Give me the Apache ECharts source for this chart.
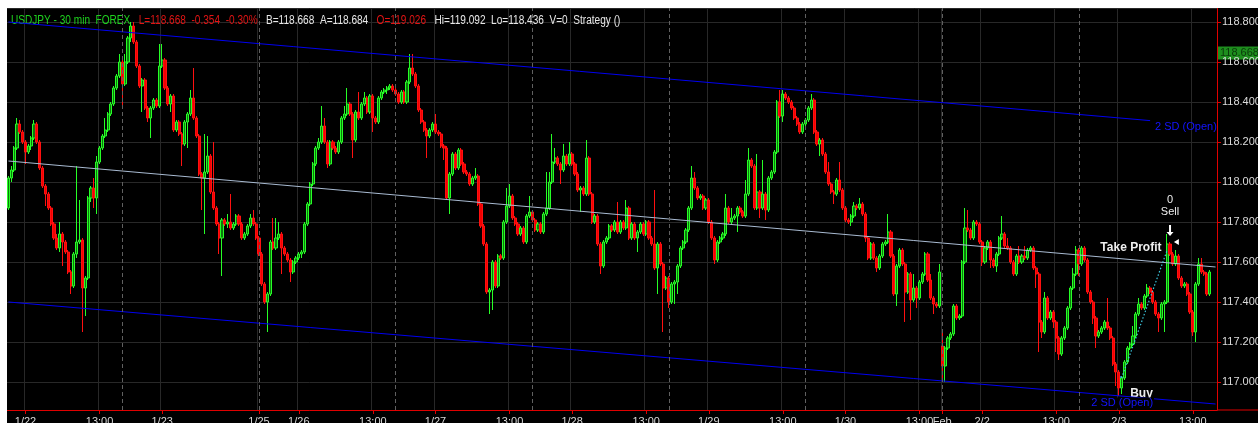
<!DOCTYPE html>
<html>
<head>
<meta charset="utf-8">
<title>USDJPY 30 min</title>
<script src="https://cdn.jsdelivr.net/npm/echarts@6/dist/echarts.min.js"></script>
<style>
  html, body { margin: 0; padding: 0; background: #fff; width: 1258px; height: 423px; overflow: hidden; }
  #frame { position: absolute; left: 7px; top: 8px; width: 1251px; height: 415px; background: #000; }
  #chart { width: 1251px; height: 415px; }
</style>
</head>
<body>
<div id="frame"><div id="chart"></div></div>
<script>
// 30 min candles, one array per session, each row [open, close, low, high]
const jan21 = [
  [117.87,118.02,117.86,118.03],[118.02,118.06,118.00,118.08],[118.06,118.17,118.05,118.18],[118.17,118.29,118.16,118.32],
  [118.29,118.25,118.24,118.31],[118.25,118.20,118.19,118.26]
];
const jan22 = [
  [118.20,118.15,118.09,118.21],[118.15,118.18,118.14,118.19],[118.18,118.22,118.16,118.23],[118.22,118.29,118.21,118.31],
  [118.29,118.20,118.19,118.30],[118.20,118.07,118.06,118.21],[118.07,117.98,117.97,118.08],[117.98,117.94,117.88,117.99],
  [117.94,117.87,117.86,117.95],[117.87,117.79,117.78,117.88],[117.79,117.72,117.71,117.80],[117.72,117.67,117.66,117.74],
  [117.67,117.74,117.65,117.80],[117.74,117.70,117.58,117.75],[117.70,117.65,117.64,117.71],[117.65,117.55,117.54,117.66],
  [117.55,117.48,117.44,117.56],[117.48,117.64,117.47,117.65],[117.64,117.70,117.62,118.08],[117.70,117.71,117.69,117.91],
  [117.71,117.47,117.25,117.72],[117.47,117.52,117.33,117.53],[117.52,117.92,117.51,117.93],[117.92,117.97,117.90,117.98],
  [117.97,117.92,117.87,118.02],[117.92,118.10,117.84,118.13],[118.10,118.17,118.09,118.18],[118.17,118.23,118.16,118.24],
  [118.23,118.26,118.22,118.32],[118.26,118.34,118.25,118.35],[118.34,118.39,118.33,118.40],[118.39,118.47,118.38,118.48],
  [118.47,118.53,118.46,118.54],[118.53,118.60,118.52,118.64],[118.60,118.49,118.37,118.61],[118.49,118.60,118.48,118.64],
  [118.60,118.72,118.59,118.73],[118.72,118.78,118.70,118.80],[118.78,118.70,118.69,118.80],[118.70,118.58,118.57,118.71],
  [118.58,118.48,118.47,118.59],[118.48,118.51,118.35,118.52],[118.51,118.37,118.36,118.52],[118.37,118.32,118.30,118.38],
  [118.32,118.37,118.22,118.38],[118.37,118.41,118.36,118.42],[118.41,118.38,118.37,118.42],[118.38,118.58,118.37,118.69]
];
const jan23 = [
  [118.58,118.61,118.57,118.69],[118.61,118.47,118.46,118.62],[118.47,118.39,118.38,118.48],[118.39,118.43,118.35,118.44],
  [118.43,118.26,118.25,118.44],[118.26,118.30,118.25,118.31],[118.30,118.24,118.23,118.31],[118.24,118.19,118.08,118.25],
  [118.19,118.30,118.18,118.31],[118.30,118.34,118.17,118.35],[118.34,118.42,118.33,118.46],[118.42,118.32,118.31,118.57],
  [118.32,118.23,118.22,118.33],[118.23,118.04,118.03,118.24],[118.04,118.02,117.86,118.05],[118.02,118.05,117.74,118.24],
  [118.05,118.13,118.04,118.23],[118.13,117.95,117.94,118.14],[117.95,117.87,117.86,118.20],[117.87,117.79,117.78,117.88],
  [117.79,117.72,117.64,117.80],[117.72,117.81,117.53,117.82],[117.81,117.79,117.78,117.82],[117.79,117.80,117.77,117.84],
  [117.80,117.77,117.76,117.94],[117.77,117.79,117.76,117.80],[117.79,117.83,117.78,117.84],[117.83,117.79,117.78,117.84],
  [117.79,117.72,117.71,117.80],[117.72,117.74,117.71,117.75],[117.74,117.78,117.73,117.79],[117.78,117.82,117.77,117.84],
  [117.82,117.79,117.78,117.86],[117.79,117.72,117.71,117.80]
];
const jan25 = [
  [117.72,117.64,117.63,117.73],[117.64,117.49,117.48,117.65],[117.49,117.40,117.39,117.50],[117.40,117.44,117.25,117.45],
  [117.44,117.70,117.43,117.71],[117.70,117.67,117.66,117.82],[117.67,117.72,117.66,117.82],[117.72,117.74,117.71,117.80],
  [117.74,117.67,117.54,117.75],[117.67,117.64,117.63,117.68],[117.64,117.61,117.60,117.65],[117.61,117.55,117.50,117.62],
  [117.55,117.60,117.54,117.61],[117.60,117.62,117.59,117.63]
];
const jan26 = [
  [117.62,117.64,117.61,117.65],[117.64,117.65,117.62,117.66],[117.65,117.79,117.64,117.80],[117.79,117.89,117.78,117.90],
  [117.89,117.99,117.88,118.00],[117.99,118.09,117.98,118.10],[118.09,118.17,118.08,118.18],[118.17,118.20,118.16,118.22],
  [118.20,118.28,118.19,118.38],[118.28,118.20,118.19,118.32],[118.20,118.09,118.07,118.21],[118.09,118.20,118.08,118.21],
  [118.20,118.17,118.16,118.21],[118.17,118.15,118.14,118.18],[118.15,118.20,118.14,118.21],[118.20,118.32,118.19,118.33],
  [118.32,118.34,118.31,118.38],[118.34,118.39,118.33,118.47],[118.39,118.34,118.33,118.40],[118.34,118.21,118.12,118.35],
  [118.21,118.35,118.20,118.36],[118.35,118.32,118.31,118.45],[118.32,118.39,118.31,118.40],[118.39,118.42,118.38,118.45],
  [118.42,118.35,118.34,118.43],[118.35,118.43,118.34,118.44],[118.43,118.32,118.25,118.44],[118.32,118.30,118.29,118.33],
  [118.30,118.42,118.29,118.43],[118.42,118.45,118.41,118.46],[118.45,118.46,118.44,118.47],[118.46,118.47,118.44,118.48],
  [118.47,118.48,118.46,118.49],[118.48,118.46,118.45,118.49],[118.46,118.44,118.43,118.47],[118.44,118.40,118.39,118.45],
  [118.40,118.45,118.39,118.46],[118.45,118.40,118.39,118.46],[118.40,118.50,118.39,118.51],[118.50,118.57,118.49,118.64],
  [118.57,118.54,118.53,118.64],[118.54,118.48,118.47,118.55],[118.48,118.36,118.35,118.49],[118.36,118.30,118.29,118.37],
  [118.30,118.26,118.25,118.31],[118.26,118.23,118.12,118.27],[118.23,118.26,118.22,118.27],[118.26,118.29,118.25,118.30]
];
const jan27 = [
  [118.29,118.25,118.24,118.34],[118.25,118.24,118.23,118.26],[118.24,118.18,118.17,118.25],[118.18,118.17,118.11,118.19],
  [118.17,117.92,117.91,118.18],[117.92,118.04,117.84,118.05],[118.04,118.14,118.03,118.15],[118.14,118.07,118.06,118.15],
  [118.07,118.16,118.06,118.17],[118.16,118.09,118.08,118.17],[118.09,118.05,118.04,118.10],[118.05,118.04,118.03,118.06],
  [118.04,117.99,117.98,118.05],[117.99,118.02,117.98,118.03],[118.02,118.03,118.01,118.07],[118.03,117.89,117.88,118.04],
  [117.89,117.78,117.77,117.90],[117.78,117.69,117.68,117.79],[117.69,117.45,117.44,117.70],[117.45,117.46,117.34,117.47],
  [117.46,117.60,117.36,117.61],[117.60,117.48,117.47,117.61],[117.48,117.63,117.47,117.64],[117.63,117.62,117.61,117.64],
  [117.62,117.80,117.61,117.81],[117.80,117.88,117.79,117.97],[117.88,117.93,117.87,117.99],[117.93,117.82,117.81,117.94],
  [117.82,117.79,117.78,117.83],[117.79,117.74,117.73,117.80],[117.74,117.77,117.73,117.78],[117.77,117.70,117.69,117.78],
  [117.70,117.83,117.69,117.84],[117.83,117.85,117.82,117.93],[117.85,117.81,117.80,117.86],[117.81,117.76,117.75,117.82],
  [117.76,117.79,117.75,117.80],[117.79,117.75,117.74,117.80],[117.75,117.84,117.74,117.85],[117.84,117.87,117.83,118.05],
  [117.87,118.00,117.86,118.05],[118.00,118.10,117.99,118.24],[118.10,118.12,118.09,118.17],[118.12,118.09,118.08,118.13],
  [118.09,118.06,117.99,118.10],[118.06,118.13,118.05,118.19],[118.13,118.09,118.08,118.14],[118.09,118.14,118.08,118.20]
];
const jan28 = [
  [118.14,118.09,118.08,118.15],[118.09,118.04,118.03,118.10],[118.04,117.96,117.95,118.05],[117.96,117.97,117.85,117.98],
  [117.97,117.94,117.93,117.98],[117.94,118.12,117.93,118.21],[118.12,117.94,117.93,118.13],[117.94,117.80,117.79,117.95],
  [117.80,117.83,117.79,117.84],[117.83,117.69,117.68,117.84],[117.69,117.58,117.54,117.70],[117.58,117.70,117.57,117.71],
  [117.70,117.72,117.69,117.73],[117.72,117.78,117.71,117.79],[117.78,117.76,117.75,117.79],[117.76,117.80,117.75,117.81],
  [117.80,117.75,117.74,117.90],[117.75,117.80,117.74,117.81],[117.80,117.77,117.76,117.81],[117.77,117.87,117.76,117.91],
  [117.87,117.72,117.71,117.88],[117.72,117.79,117.71,117.80],[117.79,117.72,117.71,117.80],[117.72,117.75,117.65,117.76],
  [117.75,117.79,117.74,117.80],[117.79,117.74,117.73,117.80],[117.74,117.80,117.73,117.81],[117.80,117.72,117.71,117.81],
  [117.72,117.69,117.68,117.73],[117.69,117.57,117.56,117.96],[117.57,117.69,117.44,117.70],[117.69,117.59,117.58,117.70],
  [117.59,117.47,117.25,117.60],[117.47,117.52,117.46,117.53],[117.52,117.40,117.37,117.53],[117.40,117.49,117.39,117.50],
  [117.49,117.50,117.39,117.51],[117.50,117.58,117.44,117.59],[117.58,117.67,117.57,117.68],[117.67,117.70,117.66,117.71],
  [117.70,117.76,117.69,117.77],[117.76,117.87,117.75,117.88],[117.87,118.02,117.86,118.08],[118.02,117.97,117.96,118.05],
  [117.97,117.92,117.91,117.98],[117.92,117.93,117.91,117.94],[117.93,117.87,117.86,117.94],[117.87,117.91,117.86,117.92]
];
const jan29 = [
  [117.91,117.80,117.79,117.92],[117.80,117.72,117.71,117.81],[117.72,117.61,117.59,117.73],[117.61,117.70,117.60,117.71],
  [117.70,117.72,117.69,117.73],[117.72,117.74,117.71,117.75],[117.74,117.87,117.73,117.94],[117.87,117.80,117.79,117.88],
  [117.80,117.82,117.79,117.87],[117.82,117.83,117.81,117.84],[117.83,117.87,117.75,117.88],[117.87,117.85,117.84,117.88],
  [117.85,117.83,117.82,117.86],[117.83,117.94,117.82,118.01],[117.94,118.11,117.93,118.17],[118.11,118.08,118.07,118.12],
  [118.08,117.87,117.86,118.09],[117.87,117.95,117.86,118.14],[117.95,117.87,117.82,117.96],[117.87,117.94,117.86,118.11],
  [117.94,117.86,117.81,117.95],[117.86,118.02,117.85,118.03],[118.02,118.05,118.01,118.06],[118.05,118.15,118.04,118.16],
  [118.15,118.40,118.14,118.41],[118.40,118.33,118.32,118.46],[118.33,118.44,118.30,118.46],[118.44,118.42,118.41,118.45],
  [118.42,118.40,118.39,118.43],[118.40,118.37,118.36,118.41],[118.37,118.32,118.31,118.38],[118.32,118.29,118.28,118.33],
  [118.29,118.25,118.24,118.30],[118.25,118.29,118.24,118.30],[118.29,118.31,118.28,118.32],[118.31,118.37,118.30,118.38],
  [118.37,118.41,118.36,118.44],[118.41,118.25,118.24,118.42],[118.25,118.19,118.18,118.26],[118.19,118.21,118.13,118.22],
  [118.21,118.14,118.13,118.22],[118.14,118.05,118.04,118.15],[118.05,117.99,117.98,118.10],[117.99,117.95,117.94,118.00],
  [117.95,117.94,117.89,117.96],[117.94,118.01,117.93,118.02],[118.01,117.96,117.95,118.10],[117.96,117.87,117.86,117.97]
];
const jan30 = [
  [117.87,117.81,117.80,117.88],[117.81,117.80,117.79,117.82],[117.80,117.83,117.78,117.84],[117.83,117.88,117.82,117.90],
  [117.88,117.87,117.86,117.89],[117.87,117.89,117.86,117.92],[117.89,117.84,117.83,117.90],[117.84,117.72,117.70,117.85],
  [117.72,117.62,117.61,117.73],[117.62,117.69,117.61,117.70],[117.69,117.62,117.61,117.70],[117.62,117.57,117.55,117.63],
  [117.57,117.63,117.56,117.64],[117.63,117.69,117.62,117.70],[117.69,117.70,117.68,117.71],[117.70,117.75,117.69,117.84],
  [117.75,117.63,117.62,117.76],[117.63,117.44,117.43,117.64],[117.44,117.58,117.38,117.59],[117.58,117.66,117.57,117.67],
  [117.66,117.59,117.58,117.67],[117.59,117.45,117.30,117.60],[117.45,117.54,117.44,117.55],[117.54,117.41,117.31,117.55],
  [117.41,117.47,117.40,117.54],[117.47,117.42,117.37,117.48],[117.42,117.50,117.41,117.51],[117.50,117.54,117.49,117.55],
  [117.54,117.64,117.53,117.65],[117.64,117.51,117.50,117.65],[117.51,117.42,117.41,117.54],[117.42,117.39,117.34,117.43],
  [117.39,117.38,117.37,117.40],[117.38,117.55,117.37,117.59]
];
const feb1 = [
  [117.18,117.08,117.00,117.25],[117.08,117.17,117.00,117.18],[117.17,117.22,117.16,117.23],[117.22,117.24,117.21,117.25],
  [117.24,117.38,117.23,117.39],[117.38,117.32,117.31,117.39],[117.32,117.33,117.31,117.34],[117.33,117.60,117.32,117.61],
  [117.60,117.77,117.59,117.87],[117.77,117.76,117.75,117.86],[117.76,117.72,117.71,117.77],[117.72,117.80,117.71,117.81],
  [117.80,117.79,117.78,117.81],[117.79,117.70,117.69,117.80]
];
const feb2 = [
  [117.70,117.60,117.58,117.71],[117.60,117.67,117.59,117.68],[117.67,117.70,117.66,117.71],[117.70,117.61,117.57,117.71],
  [117.61,117.58,117.57,117.62],[117.58,117.64,117.55,117.65],[117.64,117.72,117.63,117.73],[117.72,117.74,117.71,117.83],
  [117.74,117.68,117.67,117.75],[117.68,117.67,117.66,117.72],[117.67,117.60,117.59,117.68],[117.60,117.54,117.53,117.61],
  [117.54,117.63,117.53,117.64],[117.63,117.60,117.59,117.68],[117.60,117.63,117.59,117.64],[117.63,117.62,117.61,117.68],
  [117.62,117.66,117.61,117.67],[117.66,117.67,117.65,117.68],[117.67,117.57,117.56,117.68],[117.57,117.54,117.47,117.58],
  [117.54,117.30,117.15,117.55],[117.30,117.25,117.22,117.31],[117.25,117.42,117.24,117.45],[117.42,117.32,117.31,117.43],
  [117.32,117.35,117.31,117.36],[117.35,117.30,117.27,117.36],[117.30,117.22,117.15,117.31],[117.22,117.14,117.11,117.23],
  [117.14,117.22,117.13,117.23],[117.22,117.27,117.21,117.28],[117.27,117.37,117.26,117.38],[117.37,117.47,117.36,117.48],
  [117.47,117.54,117.46,117.57],[117.54,117.66,117.53,117.68],[117.66,117.59,117.53,117.67],[117.59,117.67,117.58,117.68],
  [117.67,117.61,117.60,117.68],[117.61,117.45,117.44,117.62],[117.45,117.40,117.39,117.46],[117.40,117.32,117.29,117.41],
  [117.32,117.23,117.17,117.33],[117.23,117.25,117.22,117.26],[117.25,117.27,117.24,117.28],[117.27,117.30,117.26,117.31],
  [117.30,117.27,117.26,117.42],[117.27,117.22,117.21,117.28],[117.22,117.09,117.08,117.23],[117.09,117.05,116.98,117.10]
];
const feb3 = [
  [117.05,116.97,116.93,117.06],[116.97,117.02,116.94,117.03],[117.02,117.10,117.01,117.11],[117.10,117.17,117.09,117.18],
  [117.17,117.19,117.16,117.20],[117.19,117.23,117.18,117.28],[117.23,117.34,117.22,117.35],[117.34,117.39,117.33,117.42],
  [117.39,117.37,117.36,117.40],[117.37,117.43,117.36,117.44],[117.43,117.47,117.42,117.49],[117.47,117.45,117.44,117.48],
  [117.45,117.40,117.39,117.46],[117.40,117.34,117.33,117.41],[117.34,117.32,117.25,117.35],[117.32,117.39,117.31,117.40],
  [117.39,117.40,117.25,117.41],[117.40,117.69,117.39,117.74],[117.69,117.64,117.63,117.70],[117.64,117.59,117.58,117.65],
  [117.59,117.63,117.58,117.66],[117.63,117.52,117.51,117.64],[117.52,117.48,117.47,117.53],[117.48,117.49,117.47,117.50],
  [117.49,117.44,117.43,117.50],[117.44,117.35,117.34,117.45],[117.35,117.25,117.23,117.36],[117.25,117.49,117.20,117.50],
  [117.49,117.59,117.48,117.62],[117.59,117.55,117.54,117.62],[117.55,117.54,117.53,117.56],[117.54,117.44,117.43,117.55],
  [117.44,117.55,117.43,117.56]
];

// time axis: bar index of each labelled tick, and the text under it
const xTickIdx  = [6, 32, 54, 88, 102, 128, 150, 176, 198, 224, 246, 272, 294, 320, 328, 342, 368, 390, 416];
const xTickText = ['1/22','13:00','1/23','1/25','1/26','13:00','1/27','13:00','1/28','13:00','1/29','13:00','1/30','13:00','Feb','2/2','13:00','2/3','13:00'];
// session breaks (17:00) drawn as dashed lines
const sessionBreaks = [40, 88, 136, 184, 232, 280, 328, 376];

// linear regression channel: [bar, price] end points
const channelMid   = [[0, 118.105], [424, 117.575]];
const channelUpper = [[0, 118.800], [401, 118.307]];
const channelLower = [[0, 117.400], [424, 116.890]];

// trade
const tradePath = [[391, 117.02], [407, 117.66]];
const lastPrice = 118.668;

const header = {
  symbol: 'USDJPY - 30 min  FOREX',
  last: 'L=118.668  -0.354  -0.30%',
  bidAsk: 'B=118.668  A=118.684',
  open: 'O=119.026',
  rest: 'Hi=119.092  Lo=118.436  V=0  Strategy ()'
};

const FONT = "'Liberation Sans', Arial, sans-serif";
const candles = [].concat(jan21, jan22, jan23, jan25, jan26, jan27, jan28, jan29, jan30, feb1, feb2, feb3);
const slots = candles.length + 2;
const cats = Array.from({ length: slots }, (_, i) => String(i));
const tickText = {};
xTickIdx.forEach((k, j) => { tickText[k] = xTickText[j]; });
const isTick = (i) => tickText[i] !== undefined;

const axisRed = '#e00000';
const gridGray = '#282828';

const option = {
  animation: false,
  backgroundColor: '#000',
  textStyle: { fontFamily: FONT },
  grid: { left: 0, right: 41, top: 0, bottom: 13, containLabel: false, outerBoundsMode: 'none' },
  xAxis: {
    type: 'category',
    data: cats,
    boundaryGap: true,
    axisLine: { lineStyle: { color: axisRed, width: 1 } },
    axisTick: { show: true, alignWithLabel: true, interval: isTick, length: 4, lineStyle: { color: axisRed } },
    axisLabel: { interval: isTick, formatter: (v, i) => tickText[i] || '', color: '#d8d8d8', fontSize: 11, fontFamily: FONT, margin: 6 },
    splitLine: { show: true, interval: isTick, lineStyle: { color: gridGray, width: 1 } }
  },
  yAxis: {
    type: 'value',
    position: 'right',
    min: 116.86, max: 118.87,
    splitNumber: 10, minInterval: 0.2, maxInterval: 0.2,
    axisLine: { show: true, lineStyle: { color: axisRed } },
    axisTick: { show: true, length: 4, lineStyle: { color: axisRed } },
    axisLabel: {
      color: '#dcdcdc', fontSize: 11, fontFamily: FONT, margin: 5,
      showMinLabel: false, showMaxLabel: false,
      formatter: (v) => v.toFixed(3)
    },
    splitLine: { show: true, lineStyle: { color: gridGray, width: 1 } }
  },
  series: [
    {
      name: 'USDJPY',
      type: 'candlestick',
      data: candles,
      barWidth: 2.6,
      itemStyle: {
        color: '#0c7a0c', borderColor: '#26ff26',
        color0: '#f20000', borderColor0: '#ff1010',
        borderWidth: 1
      },
      markLine: {
        silent: true,
        symbol: 'none',
        animation: false,
        label: { show: false },
        lineStyle: { color: '#606060', type: [4, 3], width: 1 },
        data: sessionBreaks.map((i) => ({ xAxis: i }))
      }
    },
    {
      name: 'mid', type: 'line', data: channelMid, symbol: 'none', silent: true,
      lineStyle: { color: '#a9bbd2', width: 1 }
    },
    {
      name: 'upper', type: 'line', data: channelUpper, symbol: 'none', silent: true,
      lineStyle: { color: '#0000f0', width: 1 },
      endLabel: { show: true, formatter: '2 SD (Open)', color: '#1414ff', fontSize: 11, fontFamily: FONT, offset: [-3, 6] }
    },
    {
      name: 'lower', type: 'line', data: channelLower, symbol: 'none', silent: true,
      lineStyle: { color: '#0000f0', width: 1 },
      markPoint: {
        silent: true,
        symbol: 'rect', symbolSize: 0,
        data: [{ coord: [380, 116.895] }],
        label: {
          show: true, position: 'right', distance: 0,
          formatter: '2 SD (Open)', color: '#1414ff', fontSize: 11, fontFamily: FONT,
          backgroundColor: '#000', padding: [0, 1]
        }
      }
    },
    {
      name: 'trade', type: 'line', data: tradePath, symbol: 'none', silent: true,
      lineStyle: { color: '#3cc6de', width: 1.2, type: [1.5, 2] }
    }
  ]
};

const chart = echarts.init(document.getElementById('chart'));
chart.setOption(option);

const px = (i, p) => chart.convertToPixel({ xAxisIndex: 0, yAxisIndex: 0 }, [i, p]);
const gr = chart.getModel().getComponent('grid').coordinateSystem.getRect();
const g = [];

// header line, squeezed to the platform's narrow face
g.push({
  type: 'text', x: 4, y: 13, scaleX: 0.84, silent: true,
  style: {
    text: '{g|' + header.symbol + '}   {r|' + header.last + '}   {w|' + header.bidAsk + '}   {r|' + header.open + '}   {w|' + header.rest + '}',
    font: '12px ' + FONT,
    verticalAlign: 'middle', textVerticalAlign: 'middle',
    rich: {
      g: { fill: '#1ed21e', font: '12px ' + FONT },
      r: { fill: '#e21414', font: '12px ' + FONT },
      w: { fill: '#e8e8e8', font: '12px ' + FONT }
    }
  }
});

// last price box on the scale
const lp = px(0, lastPrice)[1];
g.push({
  type: 'rect', silent: true,
  shape: { x: gr.x + gr.width + 1, y: lp - 2, width: chart.getWidth() - gr.x - gr.width, height: 13 },
  style: { fill: '#1e8e1e' }
});
g.push({
  type: 'text', x: gr.x + gr.width + 3, y: lp + 4.5, silent: true,
  style: { text: lastPrice.toFixed(3), fill: '#0b3a0b', font: '11px ' + FONT, verticalAlign: 'middle', textVerticalAlign: 'middle' }
});

// trade annotations anchored to bar/price
const tradeNotes = [
  { text: 'Buy', bar: 394, price: 116.94, align: 'left', font: 'bold 12px ' + FONT },
  { text: 'Take Profit', bar: 405, price: 117.67, align: 'right', font: 'bold 12px ' + FONT },
  { text: '0', bar: 408, price: 117.91, align: 'center', font: '11px ' + FONT },
  { text: 'Sell', bar: 408, price: 117.85, align: 'center', font: '11px ' + FONT }
];
tradeNotes.forEach((n) => {
  const [x, y] = px(n.bar, n.price);
  g.push({
    type: 'text', x: x, y: y, silent: true,
    style: { text: n.text, fill: '#eeeeee', font: n.font, textAlign: n.align, align: n.align, textVerticalAlign: 'middle', verticalAlign: 'middle' }
  });
});
// sell arrow
const [ax, ay1] = px(408, 117.785);
const ay2 = px(408, 117.73)[1];
g.push({
  type: 'polygon', silent: true,
  shape: { points: [[ax - 1, ay1], [ax + 1, ay1], [ax + 1, ay2 - 4], [ax + 3.5, ay2 - 4], [ax, ay2], [ax - 3.5, ay2 - 4], [ax - 1, ay2 - 4]] },
  style: { fill: '#ffffff' }
});
// exit marker
const [tx, ty] = px(409, 117.70);
g.push({
  type: 'polygon', silent: true,
  shape: { points: [[tx + 1, ty], [tx + 6, ty - 3], [tx + 6, ty + 3]] },
  style: { fill: '#ffffff' }
});
// entry marker
const [bx, by] = px(391, 117.02);
g.push({
  type: 'polygon', silent: true,
  shape: { points: [[bx - 3, by - 3], [bx + 2, by], [bx - 3, by + 3]] },
  style: { fill: '#3a4cff' }
});
// red axis line runs on under the price scale
g.push({
  type: 'line', silent: true,
  shape: { x1: gr.x + gr.width, y1: gr.y + gr.height, x2: chart.getWidth(), y2: gr.y + gr.height },
  style: { stroke: axisRed, lineWidth: 1 }
});
chart.setOption({ graphic: g });
</script>
</body>
</html>
